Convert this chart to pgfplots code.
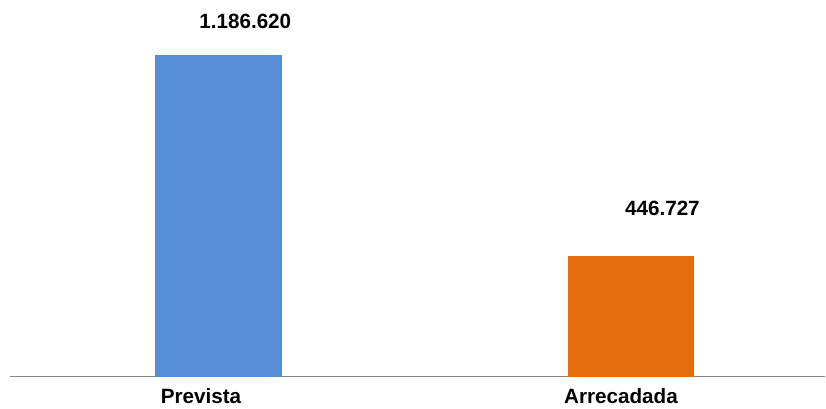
\documentclass[border=0pt]{standalone}
\usepackage{pgfplots}
\pgfplotsset{compat=1.18}
\usepackage{fontspec}
\setmainfont{Liberation Sans}
\definecolor{barblue}{HTML}{558ED5}
\definecolor{barorange}{HTML}{E46C0A}
\definecolor{baseline}{HTML}{868686}

\begin{document}
\begin{tikzpicture}
\begin{axis}[
    scale only axis,
    width=612pt, height=282.75pt,
    xmin=-0.5048, xmax=1.471,
    ymin=0, ymax=1389290,
    axis x line=bottom,
    axis y line=none,
    axis line style={draw=baseline, line width=1pt, -},
    xtick={0,1},
    xticklabels={Prevista\hspace*{26pt}, Arrecadada\hspace*{15pt}},
    major tick length=0pt,
    xticklabel style={font=\fontsize{15.5}{18}\selectfont\bfseries, anchor=base, yshift=-20.25pt},
    ytick=\empty,
    ybar, bar width=95.25pt,
    nodes near coords,
    point meta=explicit symbolic,
    nodes near coords style={font=\fontsize{15.5}{18}\selectfont\bfseries, inner sep=0pt},
    clip=false,
]
\addplot[fill=barblue, draw=none, bar shift=0pt,
    every node near coord/.append style={anchor=base, xshift=20.25pt, yshift=19.5pt}]
    coordinates {(0,1186620) [1.186.620]};
\addplot[fill=barorange, draw=none, bar shift=0pt,
    every node near coord/.append style={anchor=base, xshift=23.6pt, yshift=30pt}]
    coordinates {(1,446727) [446.727]};
\end{axis}
\path ([xshift=-7.5pt,yshift=-22.5pt]current axis.south west) rectangle (current axis.north east);
\end{tikzpicture}
\end{document}
